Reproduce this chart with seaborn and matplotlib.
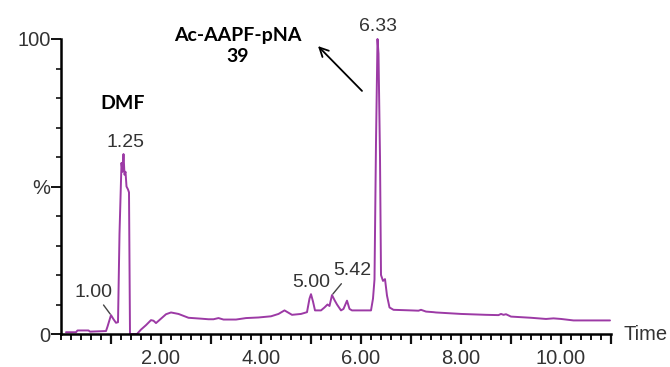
import matplotlib
matplotlib.use("Agg")
import matplotlib.pyplot as plt
from matplotlib.ticker import FixedLocator, MultipleLocator
import pandas as pd
import seaborn as sns

# Chromatogram trace: retention time (min) and relative intensity (%)
time_min = [0.10, 0.30, 0.33, 0.55, 0.58, 0.90, 0.93, 1.00, 1.05, 1.10, 1.14,
            1.17, 1.21, 1.23, 1.25, 1.27, 1.29, 1.31, 1.34, 1.36, 1.38, 1.52,
            1.60, 1.70, 1.80, 1.85, 1.90, 2.00, 2.10, 2.20, 2.35, 2.55, 2.80,
            2.95, 3.05, 3.15, 3.25, 3.50, 3.70, 3.95, 4.20, 4.35, 4.47, 4.55,
            4.62, 4.80, 4.92, 4.97, 5.00, 5.04, 5.08, 5.20, 5.27, 5.33, 5.37,
            5.42, 5.47, 5.52, 5.60, 5.65, 5.72, 5.77, 5.82, 6.20, 6.24, 6.27,
            6.30, 6.33, 6.35, 6.38, 6.40, 6.44, 6.48, 6.52, 6.57, 6.65, 7.00,
            7.15, 7.20, 7.30, 7.45, 7.50, 8.00, 8.50, 8.75, 8.80, 8.85, 8.90,
            9.00, 9.40, 9.70, 9.85, 10.00, 10.25, 10.98]
intensity = [0.6, 0.6, 1.2, 1.2, 0.8, 1.0, 2.5, 6.4, 5.0, 3.8, 4.0,
             34.0, 58.0, 55.0, 61.0, 54.0, 55.0, 50.0, 49.0, 48.0, 0.0, 0.0,
             1.5, 3.0, 4.7, 4.5, 3.7, 5.2, 6.7, 7.3, 6.8, 5.5, 5.2,
             5.0, 5.0, 5.4, 4.9, 4.9, 5.4, 5.6, 6.0, 6.8, 8.0, 7.2,
             6.5, 6.8, 7.4, 12.0, 13.5, 11.0, 8.0, 8.0, 9.0, 10.0, 9.5,
             13.2, 11.5, 10.0, 8.0, 8.5, 11.3, 8.5, 8.0, 8.0, 12.0, 18.5,
             65.0, 100.0, 95.0, 60.0, 20.0, 18.0, 18.6, 13.0, 9.0, 8.2, 8.0,
             7.9, 8.2, 7.6, 7.4, 7.3, 6.8, 6.5, 6.4, 6.8, 6.5, 6.7,
             5.9, 5.5, 5.1, 5.3, 5.1, 4.6, 4.6]

# Labelled peaks (retention time, apex intensity)
peak_times = [1.00, 1.25, 5.00, 5.42, 6.33]
peak_heights = [6.4, 61.0, 13.5, 13.2, 100.0]

x_tick_values = [2, 4, 6, 8, 10]
x_tick_labels = ["2.00", "4.00", "6.00", "8.00", "10.00"]
y_tick_values = [0, 50, 100]
y_tick_labels = ["0", "%", "100"]

df = pd.DataFrame({"Time": time_min, "Intensity": intensity})

sns.set_style("ticks")
plt.rcParams["font.family"] = ["Liberation Sans", "DejaVu Sans"]

fig = plt.figure(figsize=(6.70, 3.67), dpi=100)
ax = fig.add_axes([61 / 670, 33 / 367, 550 / 670, 295 / 367])

line_color = "#9c3aa5"
sns.lineplot(data=df, x="Time", y="Intensity", ax=ax, color=line_color,
             linewidth=1.4, estimator=None, sort=False)
for ln in ax.lines:
    ln.set_clip_on(False)

ax.set_xlim(0, 11)
ax.set_ylim(0, 100)
ax.set_xlabel("")
ax.set_ylabel("")

sns.despine(ax=ax)
for side in ("left", "bottom"):
    ax.spines[side].set_linewidth(1.8)
    ax.spines[side].set_color("black")

# x axis: labelled even minutes, longer ticks on every minute, minor every 0.2
minute_ticks = list(range(1, 12))
ax.xaxis.set_major_locator(FixedLocator(minute_ticks))
ax.set_xticklabels([x_tick_labels[x_tick_values.index(v)]
                    if v in x_tick_values else "" for v in minute_ticks])
ax.xaxis.set_minor_locator(MultipleLocator(0.2))
ax.tick_params(axis="x", which="major", bottom=True, length=7, width=1.6,
               pad=4, labelsize=14.5, labelcolor="#333333", color="#111111",
               direction="out")
ax.tick_params(axis="x", which="minor", bottom=True, length=4.5, width=1.4,
               color="#111111", direction="out")

ax.yaxis.set_major_locator(FixedLocator(y_tick_values))
ax.set_yticklabels(y_tick_labels)
ax.yaxis.set_minor_locator(MultipleLocator(10))
ax.tick_params(axis="y", which="major", left=True, length=7, width=1.4,
               pad=0.5, labelsize=14.5, labelcolor="#333333", color="#111111",
               direction="out")
ax.tick_params(axis="y", which="minor", left=True, length=3.5, width=1.2,
               color="#111111", direction="out")

ax.annotate("Time", xy=(1.0, 0.0), xycoords="axes fraction",
            xytext=(9, 0), textcoords="offset points", ha="left",
            va="center", fontsize=14.5, color="#333333")

# Peak retention-time labels
label_pos = {1.00: (0.66, 14.2), 1.25: (1.28, 65.0), 5.00: (5.0, 17.3),
             5.42: (5.82, 21.4), 6.33: (6.34, 104.4)}
with_leader = {1.00, 5.42}
for t, h in zip(peak_times, peak_heights):
    tx, ty = label_pos[t]
    props = None
    if t in with_leader:
        props = dict(arrowstyle="-", color="#444444", lw=1.0,
                     shrinkA=1, shrinkB=1)
    ax.annotate(f"{t:.2f}", xy=(t, h), xytext=(tx, ty),
                textcoords="data", ha="center", va="center",
                fontsize=14, color="#333333", arrowprops=props,
                annotation_clip=False)

# Compound names
ax.text(1.24, 78.3, "DMF", ha="center", va="center", fontsize=14,
        fontweight="bold", family=["Lato", "DejaVu Sans"], color="black")
ax.text(3.54, 97.6, "Ac-AAPF-pNA\n39", ha="center", va="center",
        fontsize=14, fontweight="bold", family=["Lato", "DejaVu Sans"],
        color="black", linespacing=1.25, multialignment="center")
ax.annotate("", xy=(5.14, 97.6), xytext=(6.02, 82.4),
            arrowprops=dict(arrowstyle="->", color="black", lw=1.3,
                            mutation_scale=16, shrinkA=0, shrinkB=0),
            annotation_clip=False)

fig.savefig("out.png", dpi=100)
